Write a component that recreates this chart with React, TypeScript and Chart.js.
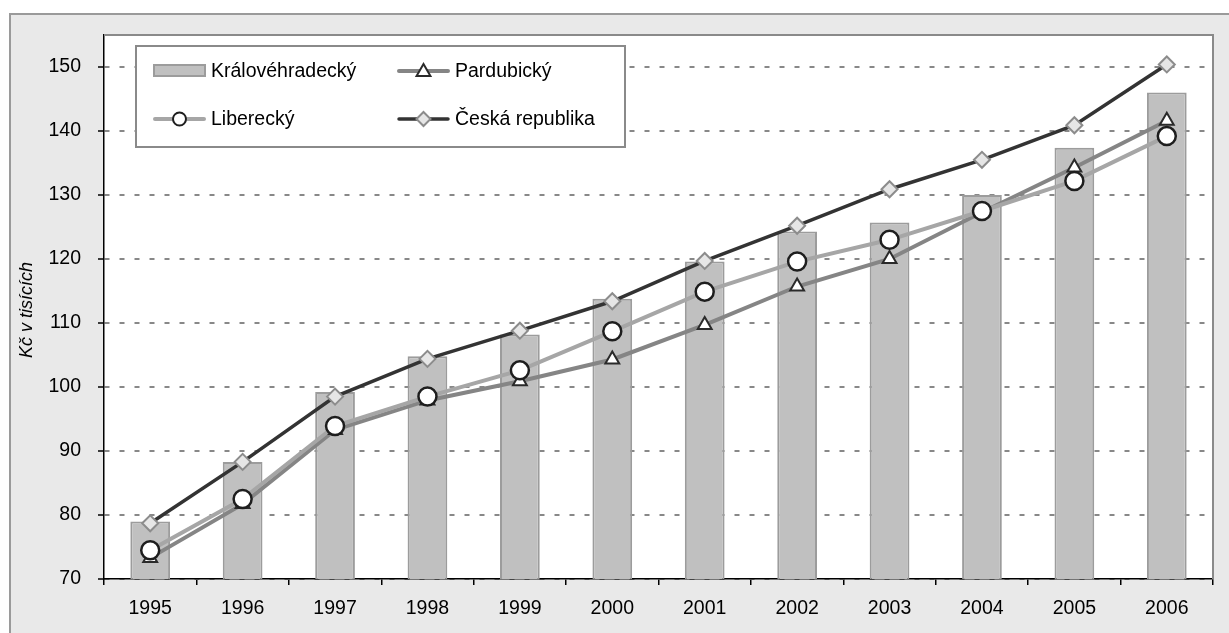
import React, { useEffect, useRef } from "react";
import { Chart, registerables } from "chart.js";

Chart.register(...registerables);

const years = ["1995", "1996", "1997", "1998", "1999", "2000", "2001", "2002", "2003", "2004", "2005", "2006"];
const kralovehradecky = [79.0, 88.3, 99.2, 104.8, 108.2, 113.8, 119.6, 124.3, 125.7, 130.0, 137.4, 146.0];
const pardubicky = [73.3, 81.7, 93.3, 97.9, 100.9, 104.3, 109.7, 115.7, 120.0, 127.3, 134.3, 141.6];
const liberecky = [74.5, 82.5, 93.9, 98.5, 102.6, 108.7, 114.9, 119.6, 123.0, 127.5, 132.2, 139.2];
const ceskaRepublika = [78.7, 88.3, 98.5, 104.4, 108.8, 113.4, 119.7, 125.2, 130.9, 135.5, 140.9, 150.4];
const yTicks = [70, 80, 90, 100, 110, 120, 130, 140, 150];
const yTitle = "Kč v tisících";

const FONT = "'Liberation Sans', Arial, sans-serif";

function drawMarker(ctx: CanvasRenderingContext2D, style: string, x: number, y: number, r: number, fill: string, stroke: string, lw: number) {
  ctx.save();
  ctx.beginPath();
  if (style === "circle") {
    ctx.arc(x, y, r, 0, Math.PI * 2);
  } else if (style === "triangle") {
    ctx.moveTo(x, y - r);
    ctx.lineTo(x + r * 0.866, y + r * 0.5);
    ctx.lineTo(x - r * 0.866, y + r * 0.5);
    ctx.closePath();
  } else if (style === "rectRot") {
    ctx.moveTo(x, y - r);
    ctx.lineTo(x + r, y);
    ctx.lineTo(x, y + r);
    ctx.lineTo(x - r, y);
    ctx.closePath();
  }
  ctx.fillStyle = fill;
  ctx.fill();
  ctx.lineWidth = lw;
  ctx.strokeStyle = stroke;
  ctx.stroke();
  ctx.restore();
}

const framePlugin = {
  id: "framePlugin",
  beforeDraw(chart: any) {
    const { ctx, chartArea: a } = chart;
    ctx.save();
    ctx.fillStyle = "#ffffff";
    ctx.fillRect(0, 0, chart.width, chart.height);
    ctx.fillStyle = "#e9e9e9";
    ctx.fillRect(10, 14, chart.width, chart.height);
    ctx.strokeStyle = "#9a9a9a";
    ctx.lineWidth = 2;
    ctx.strokeRect(10, 14, chart.width + 20, chart.height + 20);
    ctx.fillStyle = "#ffffff";
    ctx.fillRect(a.left, a.top, a.right - a.left, a.bottom - a.top);
    ctx.restore();
  },
  afterDraw(chart: any) {
    const { ctx, chartArea: a } = chart;
    ctx.save();
    // plot area border (top / right)
    ctx.strokeStyle = "#8a8a8a";
    ctx.lineWidth = 2;
    ctx.beginPath();
    ctx.moveTo(a.left, a.top);
    ctx.lineTo(a.right, a.top);
    ctx.lineTo(a.right, a.bottom);
    ctx.stroke();

    // y axis title
    ctx.save();
    ctx.translate(27, 310);
    ctx.rotate(-Math.PI / 2);
    ctx.font = `italic 18px ${FONT}`;
    ctx.fillStyle = "#000";
    ctx.textAlign = "center";
    ctx.textBaseline = "middle";
    ctx.fillText(yTitle, 0, 0);
    ctx.restore();

    // legend box
    const lx = 136, ly = 46, lw = 489, lh = 101;
    ctx.fillStyle = "#ffffff";
    ctx.fillRect(lx, ly, lw, lh);
    ctx.strokeStyle = "#8a8a8a";
    ctx.lineWidth = 2;
    ctx.strokeRect(lx, ly, lw, lh);

    const ds = chart.data.datasets;
    const items = [
      { d: ds[0], x: 153, y: 71 },
      { d: ds[1], x: 397, y: 71 },
      { d: ds[2], x: 153, y: 119 },
      { d: ds[3], x: 397, y: 119 },
    ];
    ctx.font = `19.5px ${FONT}`;
    ctx.textBaseline = "middle";
    ctx.textAlign = "left";
    for (const it of items) {
      const d = it.d;
      if (d.type === "bar") {
        ctx.fillStyle = d.backgroundColor;
        ctx.fillRect(it.x, it.y - 7, 53, 13);
        ctx.strokeStyle = d.borderColor;
        ctx.lineWidth = 2;
        ctx.strokeRect(it.x + 1, it.y - 6, 51, 11);
      } else {
        ctx.strokeStyle = d.borderColor;
        ctx.lineWidth = d.borderWidth;
        ctx.lineCap = "round";
        ctx.beginPath();
        ctx.moveTo(it.x + 2, it.y);
        ctx.lineTo(it.x + 51, it.y);
        ctx.stroke();
        const r = d.pointStyle === "circle" ? 6.5 : d.pointStyle === "triangle" ? 8 : 7;
        drawMarker(ctx, d.pointStyle, it.x + 26.5, it.y + (d.pointStyle === "triangle" ? 1 : 0), r, d.pointBackgroundColor, d.pointBorderColor, 2);
      }
      ctx.fillStyle = "#000";
      ctx.fillText(d.label, it.x + 58, it.y + 1);
    }
    ctx.restore();
  },
};

export default function App() {
  const ref = useRef<HTMLCanvasElement | null>(null);

  useEffect(() => {
    if (!ref.current) return;
    const chart = new Chart(ref.current, {
      type: "bar",
      data: {
        labels: years,
        datasets: [
          {
            type: "bar",
            label: "Královéhradecký",
            data: kralovehradecky,
            backgroundColor: "#c0c0c0",
            borderColor: "#9c9c9c",
            borderWidth: 2,
            barPercentage: 0.43,
            categoryPercentage: 1,
            order: 3,
          } as any,
          {
            type: "line",
            label: "Pardubický",
            data: pardubicky,
            borderColor: "#858585",
            borderWidth: 4,
            pointStyle: "triangle",
            pointRadius: 8,
            pointBackgroundColor: "#ffffff",
            pointBorderColor: "#2a2a2a",
            pointBorderWidth: 2,
            tension: 0,
            order: 2,
          },
          {
            type: "line",
            label: "Liberecký",
            data: liberecky,
            borderColor: "#a6a6a6",
            borderWidth: 4,
            pointStyle: "circle",
            pointRadius: 9,
            pointBackgroundColor: "#ffffff",
            pointBorderColor: "#1e1e1e",
            pointBorderWidth: 2.5,
            tension: 0,
            order: 1,
          },
          {
            type: "line",
            label: "Česká republika",
            data: ceskaRepublika,
            borderColor: "#333333",
            borderWidth: 3.5,
            pointStyle: "rectRot",
            pointRadius: 8,
            pointBackgroundColor: "#e6e6e6",
            pointBorderColor: "#8c8c8c",
            pointBorderWidth: 2,
            tension: 0,
            order: 0,
          },
        ],
      },
      options: {
        responsive: false,
        animation: false,
        layout: { padding: { left: 10, top: 35, right: 16, bottom: 0 } },
        plugins: {
          legend: { display: false },
          tooltip: { enabled: false },
          title: { display: false },
        },
        scales: {
          x: {
            type: "category",
            offset: true,
            grid: {
              offset: true,
              drawOnChartArea: false,
              drawTicks: true,
              tickLength: 6,
              color: "#000",
              lineWidth: 1.5,
            },
            border: { color: "#000", width: 1.5 },
            ticks: {
              color: "#000",
              font: { family: FONT, size: 19.5 },
              padding: 12,
              maxRotation: 0,
              autoSkip: false,
            },
            afterFit: (scale: any) => {
              scale.height = 54;
            },
          },
          y: {
            type: "linear",
            min: 70,
            max: 155,
            afterBuildTicks: (scale: any) => {
              scale.ticks = yTicks.map((v) => ({ value: v }));
            },
            ticks: {
              stepSize: 10,
              color: "#000",
              font: { family: FONT, size: 19.5 },
              padding: 17,
            },
            grid: {
              color: "#888888",
              lineWidth: 2,
              drawTicks: true,
              tickLength: 6,
              tickColor: "#000",
              tickWidth: 1.5,
              tickBorderDash: [],
            } as any,
            border: { color: "#000", width: 1.5, dash: [5, 10] },
            afterFit: (scale: any) => {
              scale.width = 94;
            },
          },
        },
      },
      plugins: [framePlugin],
    });
    return () => chart.destroy();
  }, []);

  return (
    <div style={{ position: "absolute", left: 0, top: 0, width: 1229, height: 633 }}>
      <canvas ref={ref} width={1229} height={633} />
    </div>
  );
}
